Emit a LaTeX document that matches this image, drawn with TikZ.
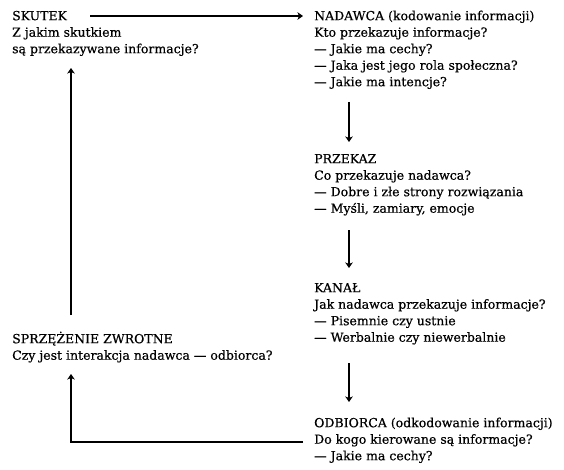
\documentclass[tikz,border=0pt]{standalone}
\usepackage{fontspec}
\setmainfont{DejaVu Serif}[FakeBold=0.5]
\usetikzlibrary{arrows.meta}
\begin{document}
\begin{tikzpicture}[
  x=1pt,y=1pt,
  blk/.style={anchor=north west, inner sep=0pt, align=left, font=\fontsize{12.5}{16.5}\selectfont},
  arr/.style={line width=1.2pt, -{Stealth[length=5.5pt,width=7.5pt,inset=1.5pt]}}
]
\fill[white] (0,0) rectangle (564,-470);
\useasboundingbox (0,0) rectangle (564,-470);

% first-line baselines: 20, 20, 163, 292, 427, 343 ; strut height 11.55
\node[blk] (skutek) at (12,-8.45) {\strut SKUTEK\\Z jakim skutkiem\\są przekazywane informacje?};
\node[blk] (nadawca) at (314,-8.45) {\strut NADAWCA (kodowanie informacji)\\Kto przekazuje informacje?\\— Jakie ma cechy?\\— Jaka jest jego rola społeczna?\\— Jakie ma intencje?};
\node[blk] (przekaz) at (314,-151.45) {\strut PRZEKAZ\\Co przekazuje nadawca?\\— Dobre i złe strony rozwiązania\\— Myśli, zamiary, emocje};
\node[blk] (kanal) at (314,-280.45) {\strut KANAŁ\\Jak nadawca przekazuje informacje?\\— Pisemnie czy ustnie\\— Werbalnie czy niewerbalnie};
\node[blk] (odbiorca) at (314,-415.45) {\strut ODBIORCA (odkodowanie informacji)\\Do kogo kierowane są informacje?\\— Jakie ma cechy?};
\node[blk] (sprzezenie) at (12,-331.45) {\strut SPRZĘŻENIE ZWROTNE\\Czy jest interakcja nadawca — odbiorca?};

\draw[arr] ([shift={(78,-7.55)}]skutek.north west) -- ([shift={(-11,-7.55)}]nadawca.north west);
\draw[arr] ([shift={(35,-93.55)}]nadawca.north west) -- ([shift={(35,9.45)}]przekaz.north west);
\draw[arr] ([shift={(35,-78.55)}]przekaz.north west) -- ([shift={(35,12.45)}]kanal.north west);
\draw[arr] ([shift={(35,-82.55)}]kanal.north west) -- ([shift={(35,13.45)}]odbiorca.north west);
\draw[arr] ([shift={(59,16.45)}]sprzezenie.north west) -- ([shift={(59,-59.55)}]skutek.north west);
\draw[arr] ([shift={(-11,-26.55)}]odbiorca.north west) -| ([shift={(59,-42.55)}]sprzezenie.north west);
\end{tikzpicture}
\end{document}
